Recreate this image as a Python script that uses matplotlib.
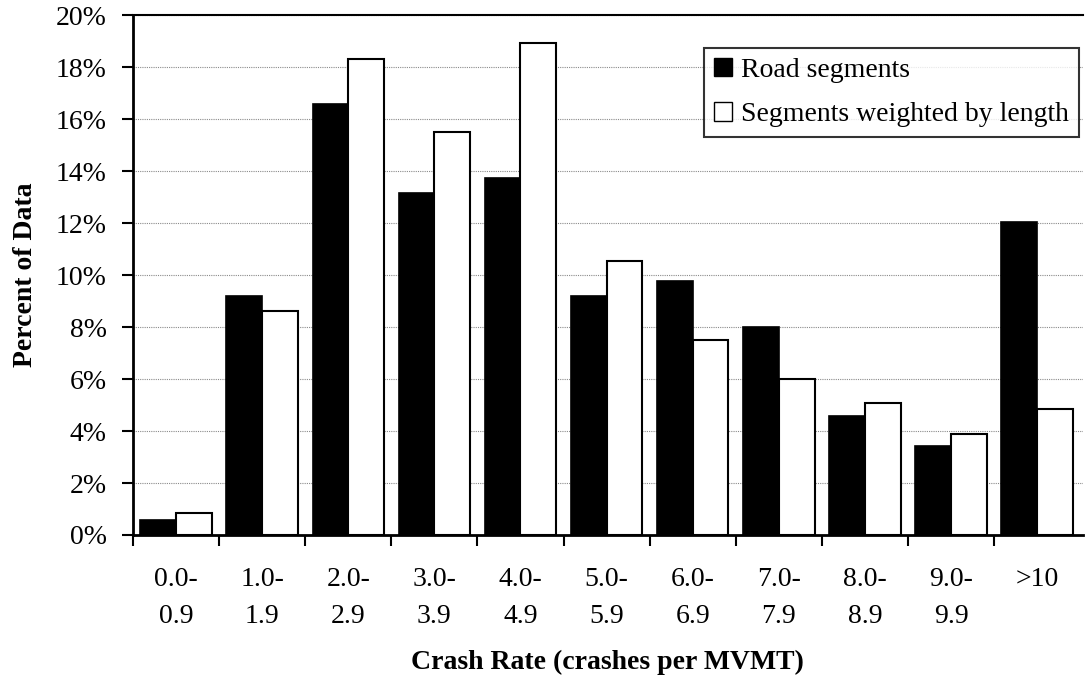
import matplotlib
matplotlib.use("Agg")
import matplotlib.pyplot as plt
import numpy as np
from matplotlib.patches import Patch

categories = ["0.0-\n0.9", "1.0-\n1.9", "2.0-\n2.9", "3.0-\n3.9", "4.0-\n4.9", "5.0-\n5.9",
              "6.0-\n6.9", "7.0-\n7.9", "8.0-\n8.9", "9.0-\n9.9", ">10"]
road_segments = [0.58, 9.19, 16.6, 13.15, 13.73, 9.19, 9.77, 8.0, 4.58, 3.42, 12.04]
weighted_by_length = [0.85, 8.62, 18.3, 15.52, 18.92, 10.56, 7.52, 6.0, 5.06, 3.9, 4.85]
yticks = [0, 2, 4, 6, 8, 10, 12, 14, 16, 18, 20]

plt.rcParams['font.family'] = ['Liberation Serif', 'DejaVu Serif']

fig = plt.figure(figsize=(10.86, 6.88), dpi=100)
ax = fig.add_axes([0.1225, 0.2224, 0.8745, 0.7556])

x = np.arange(len(categories))
w = 0.415
ax.bar(x - w/2, road_segments, width=w, color='black', edgecolor='black', linewidth=1.2, zorder=3)
ax.bar(x + w/2, weighted_by_length, width=w, color='white', edgecolor='black', linewidth=1.5, zorder=3)

ax.set_xlim(-0.5, len(categories) - 0.5 + 0.03)
ax.set_ylim(0, 20)
ax.set_yticks(yticks)
ax.set_yticklabels([f"{v}%" for v in yticks], fontsize=20)
ax.yaxis.grid(True, color='#8a8a8a', linestyle=(0, (1, 1)), linewidth=0.8, zorder=0)

ax.set_xticks(x)
ax.set_xticklabels(categories, fontsize=20, linespacing=1.63)
ax.tick_params(axis='x', which='major', length=0, pad=23)
ax.set_xticks(np.arange(len(categories)) - 0.5, minor=True)
ax.tick_params(axis='x', which='minor', length=8, width=1.5, direction='out')
ax.tick_params(axis='y', length=8, width=1.5, direction='out', pad=11)

for s in ['left', 'bottom']:
    ax.spines[s].set_linewidth(2)
ax.spines['top'].set_linewidth(1.5)
ax.spines['right'].set_visible(False)

ax.set_ylabel("Percent of Data", fontsize=20, fontweight='bold')
ax.yaxis.set_label_coords(-0.113, 0.5)
ax.set_xlabel("Crash Rate (crashes per MVMT)", fontsize=20, fontweight='bold')
ax.xaxis.set_label_coords(0.5, -0.245)
ax.xaxis.label.set_verticalalignment('center')
ax.yaxis.label.set_verticalalignment('center')

handles = [Patch(facecolor='black', edgecolor='black', label='Road segments'),
           Patch(facecolor='white', edgecolor='black', label='Segments weighted by length')]
leg = ax.legend(handles=handles, loc='upper right', bbox_to_anchor=(0.996, 0.937),
                fontsize=20, frameon=True, fancybox=False, edgecolor='black',
                handlelength=0.65, handleheight=0.65, handletextpad=0.35,
                borderpad=0.35, labelspacing=0.7, borderaxespad=0)
leg.get_frame().set_linewidth(1.5)
leg.set_zorder(5)

fig.savefig("out.png", dpi=100)
